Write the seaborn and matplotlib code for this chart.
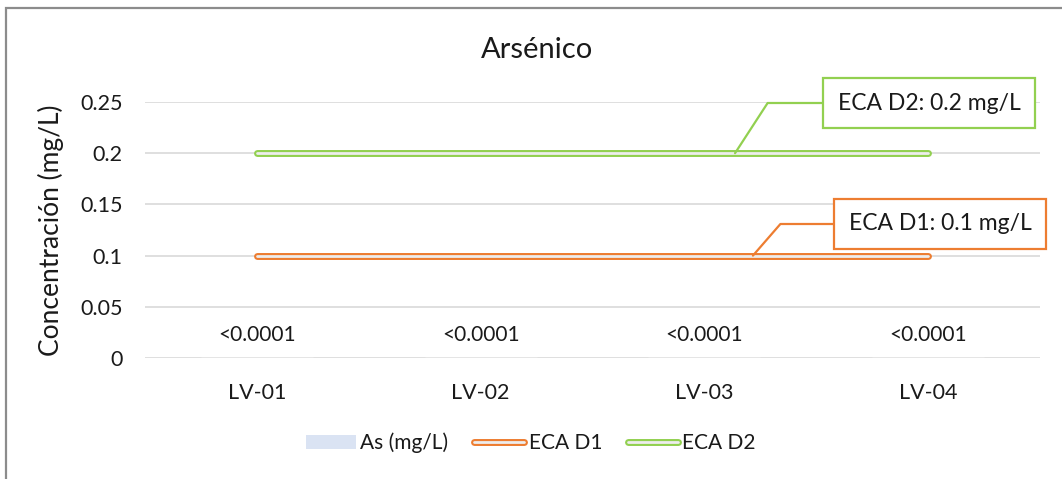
import numpy as np
import pandas as pd
import matplotlib
matplotlib.use("Agg")
import matplotlib.pyplot as plt
import matplotlib.patheffects as pe
from matplotlib.lines import Line2D
from matplotlib.patches import Patch, Rectangle
import seaborn as sns

# data
stations = ["LV-01", "LV-02", "LV-03", "LV-04"]
as_values = [0.00005, 0.00005, 0.00005, 0.00005]
as_labels = ["<0.0001", "<0.0001", "<0.0001", "<0.0001"]
eca_d1 = [0.1, 0.1, 0.1, 0.1]
eca_d2 = [0.2, 0.2, 0.2, 0.2]
y_ticks = [0, 0.05, 0.1, 0.15, 0.2, 0.25]
y_tick_labels = ["0", "0.05", "0.1", "0.15", "0.2", "0.25"]

BAR_COLOR = "#DAE3F3"
D1_COLOR = "#ED7D31"
D2_COLOR = "#92D050"
INNER = "#EDEDED"
TEXT = "#1a1a1a"

sns.set_style("white")
plt.rcParams["font.family"] = ["Lato", "DejaVu Sans"]

df = pd.DataFrame({
    "station": stations,
    "as": as_values,
    "d1": eca_d1,
    "d2": eca_d2,
})

fig = plt.figure(figsize=(10.62, 4.79), dpi=100)
ax = fig.add_axes([145 / 1062, 1 - 358 / 479, 895 / 1062, 256 / 479])

sns.barplot(data=df, x="station", y="as", color=BAR_COLOR, width=0.5,
            saturation=1, ax=ax)
ax.bar_label(ax.containers[0], labels=as_labels, padding=9, fontsize=15,
             color=TEXT)

double = lambda c: [pe.Stroke(linewidth=5, foreground=c), pe.Normal()]
for col, color in [("d1", D1_COLOR), ("d2", D2_COLOR)]:
    sns.lineplot(x=df.index, y=df[col], color=INNER, linewidth=2,
                 path_effects=double(color), ax=ax, zorder=3)

ax.set_xlim(-0.5, len(stations) - 0.5)
ax.set_ylim(0, 0.25)
ax.set_yticks(y_ticks)
ax.set_yticklabels(y_tick_labels)
ax.set_xticks(range(len(stations)))
ax.set_xticklabels(stations)
ax.tick_params(axis="y", length=0, pad=16, labelsize=15.5, labelcolor=TEXT)
ax.tick_params(axis="x", length=0, pad=18, labelsize=15.5, labelcolor=TEXT)
ax.grid(True, axis="y", color="#D9D9D9", linewidth=1.2)
ax.set_axisbelow(True)
for s in ax.spines.values():
    s.set_visible(False)
ax.set_xlabel("")
ax.set_ylabel("Concentración (mg/L)", fontsize=19, color=TEXT, labelpad=12)

fig.text(537 / 1062, 1 - 50 / 479, "Arsénico", ha="center", va="center",
         fontsize=21, color=TEXT)

# callouts for the thresholds
ax.annotate("ECA D2: 0.2 mg/L", xy=(2.137, 0.2), xytext=(929, 479 - 103),
            textcoords="figure pixels", ha="center", va="center",
            fontsize=16.5, color=TEXT, annotation_clip=False,
            bbox=dict(boxstyle="square,pad=0.65", fc="white", ec=D2_COLOR,
                      lw=1.6),
            arrowprops=dict(arrowstyle="-", color=D2_COLOR, lw=1.6,
                            shrinkA=0, shrinkB=0,
                            connectionstyle="angle,angleA=0,angleB=57,rad=0"))
ax.annotate("ECA D1: 0.1 mg/L", xy=(2.217, 0.1), xytext=(940, 479 - 224),
            textcoords="figure pixels", ha="center", va="center",
            fontsize=16.5, color=TEXT, annotation_clip=False,
            bbox=dict(boxstyle="square,pad=0.65", fc="white", ec=D1_COLOR,
                      lw=1.6),
            arrowprops=dict(arrowstyle="-", color=D1_COLOR, lw=1.6,
                            shrinkA=0, shrinkB=0,
                            connectionstyle="angle,angleA=0,angleB=49,rad=0"))

handles = [
    Patch(facecolor=BAR_COLOR, edgecolor="none"),
    Line2D([], [], color=INNER, linewidth=2, path_effects=double(D1_COLOR)),
    Line2D([], [], color=INNER, linewidth=2, path_effects=double(D2_COLOR)),
]
fig.legend(handles, ["As (mg/L)", "ECA D1", "ECA D2"], loc="center",
           bbox_to_anchor=(0.5, 1 - 443 / 479), ncol=3, frameon=False,
           fontsize=15, handlelength=2.4, handletextpad=0.2,
           columnspacing=1.25, labelcolor=TEXT)

# outer chart border (cropped on the right and bottom in the reference)
fig.patches.append(Rectangle((6 / 1062, -0.1), 1.2, 1.1 - 8 / 479,
                             transform=fig.transFigure, fill=False,
                             ec="#8C8C8C", lw=1.6, figure=fig))

fig.savefig("out.png", dpi=100)
